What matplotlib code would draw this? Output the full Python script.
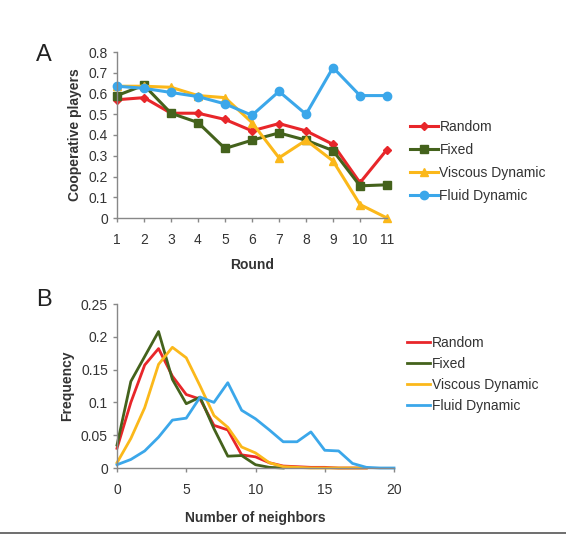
import matplotlib.pyplot as plt

plt.rcParams['font.family'] = ['Liberation Sans', 'DejaVu Sans']

# === Panel A data ===
rounds = list(range(1, 12))
coop_random = [0.57, 0.58, 0.505, 0.505, 0.475, 0.42, 0.455, 0.42, 0.355, 0.17, 0.33]
coop_fixed = [0.59, 0.64, 0.505, 0.46, 0.335, 0.375, 0.41, 0.375, 0.325, 0.155, 0.16]
coop_viscous = [0.635, 0.635, 0.63, 0.59, 0.58, 0.46, 0.29, 0.375, 0.275, 0.065, 0.0]
coop_fluid = [0.635, 0.625, 0.605, 0.585, 0.55, 0.495, 0.61, 0.5, 0.725, 0.59, 0.59]

# === Panel B data ===
nb_random = [0.03, 0.10, 0.157, 0.182, 0.14, 0.112, 0.105, 0.065, 0.058, 0.02, 0.017,
             0.008, 0.003, 0.002, 0.001, 0.001, 0.0, 0.0, 0.0]
nb_fixed = [0.035, 0.132, 0.17, 0.208, 0.135, 0.098, 0.108, 0.06, 0.018, 0.019, 0.005,
            0.001, 0.0]
nb_viscous = [0.008, 0.045, 0.092, 0.158, 0.184, 0.168, 0.125, 0.08, 0.062, 0.032, 0.023,
              0.008, 0.002, 0.001, 0.0, 0.0, 0.0, 0.0, 0.0]
nb_fluid = [0.005, 0.013, 0.026, 0.047, 0.073, 0.076, 0.108, 0.1, 0.13, 0.088, 0.075,
            0.058, 0.04, 0.04, 0.055, 0.027, 0.026, 0.007, 0.001, 0.0, 0.0]

labels = ['Random', 'Fixed', 'Viscous Dynamic', 'Fluid Dynamic']
colors = ['#e8262a', '#44621c', '#fbb81a', '#3ba7ea']
markers = ['D', 's', '^', 'o']
msizes = [4, 5.5, 5.5, 6]

fig = plt.figure(figsize=(5.66, 5.37), dpi=100)
txt = '#333333'
spine = '#888888'

def style(ax):
    for s in ['top', 'right']:
        ax.spines[s].set_visible(False)
    for s in ['left', 'bottom']:
        ax.spines[s].set_color(spine)
        ax.spines[s].set_linewidth(1.0)
    ax.tick_params(colors=spine, labelcolor=txt, labelsize=10, length=3, width=1)

# === Panel A ===
axA = fig.add_axes([117 / 566, 1 - 218 / 537, 270 / 566, 166 / 537])
for y, lab, c, m, ms in zip([coop_random, coop_fixed, coop_viscous, coop_fluid],
                            labels, colors, markers, msizes):
    axA.plot(rounds, y, color=c, marker=m, markersize=ms, lw=2.2, label=lab, clip_on=False)
axA.set_xlim(1, 11)
axA.set_ylim(0, 0.8)
axA.set_xticks(rounds)
axA.set_yticks([0, 0.1, 0.2, 0.3, 0.4, 0.5, 0.6, 0.7, 0.8])
axA.set_yticklabels(['0', '0.1', '0.2', '0.3', '0.4', '0.5', '0.6', '0.7', '0.8'])
style(axA)
axA.tick_params(axis='x', pad=8)
axA.set_xlabel('Round', fontsize=10, fontweight='bold', color=txt, labelpad=8)
axA.set_ylabel('Cooperative players', fontsize=10, fontweight='bold', color=txt, labelpad=5)
axA.legend(loc='center left', bbox_to_anchor=(1.04, 0.34), frameon=False, fontsize=10,
           handlelength=2.0, handletextpad=0.1, labelspacing=0.65, labelcolor=txt)
fig.text(36 / 566, 1 - 55 / 537, 'A', fontsize=17, color='#222222', va='center')

# === Panel B ===
axB = fig.add_axes([117 / 566, 1 - 468 / 537, 277 / 566, 164 / 537])
for y, lab, c in zip([nb_random, nb_fixed, nb_viscous, nb_fluid], labels, colors):
    axB.plot(range(len(y)), y, color=c, lw=2.0, label=lab, clip_on=False)
axB.set_xlim(0, 20)
axB.set_ylim(0, 0.25)
axB.set_xticks([0, 5, 10, 15, 20])
axB.set_yticks([0, 0.05, 0.1, 0.15, 0.2, 0.25])
axB.set_yticklabels(['0', '0.05', '0.1', '0.15', '0.2', '0.25'])
style(axB)
axB.tick_params(axis='x', pad=8)
axB.set_xlabel('Number of neighbors', fontsize=10, fontweight='bold', color=txt, labelpad=10)
axB.set_ylabel('Frequency', fontsize=10, fontweight='bold', color=txt, labelpad=5)
axB.legend(loc='center left', bbox_to_anchor=(1.0, 0.57), frameon=False, fontsize=10,
           handlelength=1.7, handletextpad=0.1, labelspacing=0.5, labelcolor=txt)
fig.text(36 / 566, 1 - 300 / 537, 'B', fontsize=17, color='#222222', va='center')

# bottom rule
fig.add_artist(plt.Line2D([0.0, 1.0], [1 - 533 / 537, 1 - 533 / 537],
                          color='#555555', lw=1.2, transform=fig.transFigure))

fig.savefig('out.png', dpi=100, facecolor='white')
